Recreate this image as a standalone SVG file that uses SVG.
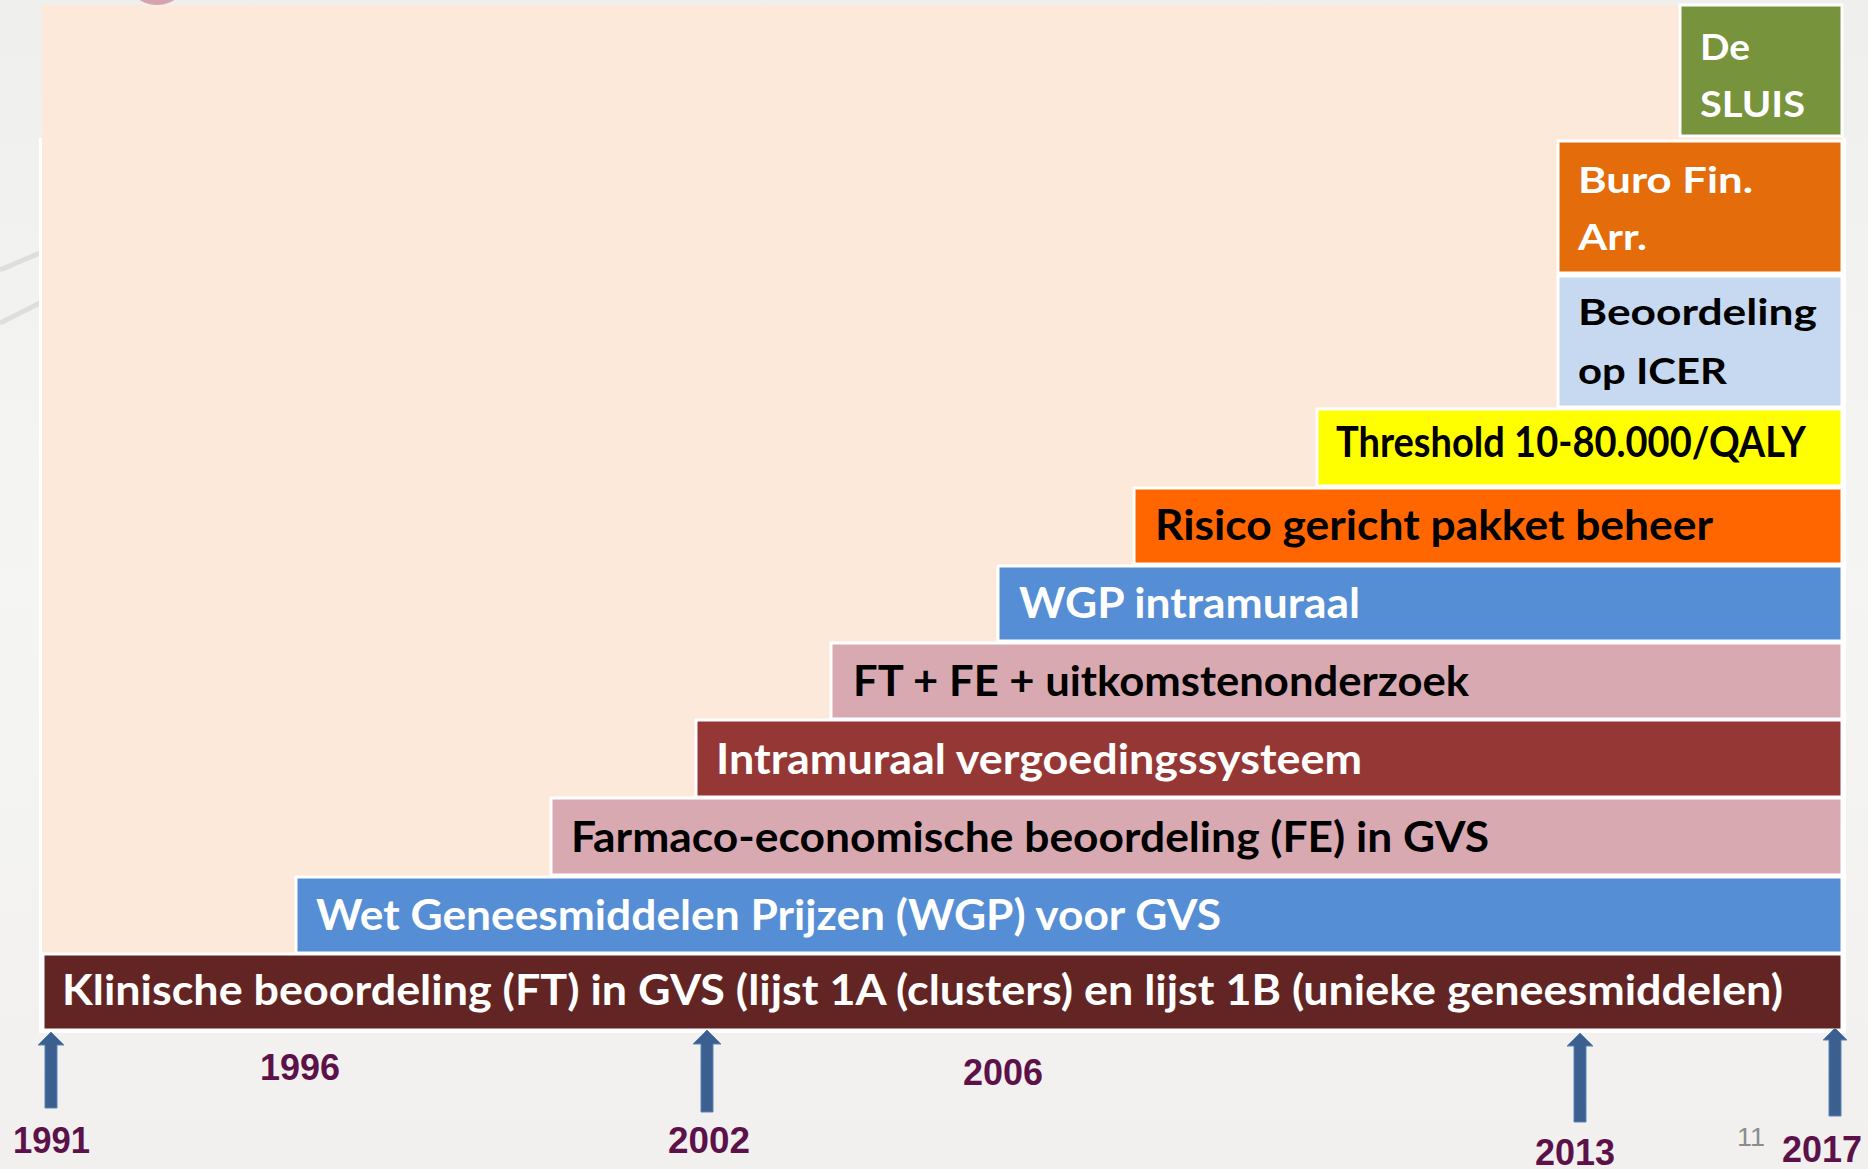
<svg xmlns="http://www.w3.org/2000/svg" width="1868" height="1169" viewBox="0 0 1868 1169">
  <defs>
    <linearGradient id="bg" x1="0" y1="0" x2="0" y2="1">
      <stop offset="0" stop-color="#EFEFEE"/>
      <stop offset="0.5" stop-color="#F5F5F4"/>
      <stop offset="1" stop-color="#F1F0EE"/>
    </linearGradient>
    <style>
      .bar { stroke: #FFFFFF; stroke-width: 3; }
      .lbl { font-family: Lato, "Open Sans", "Liberation Sans", sans-serif; font-weight: bold; font-size: 42px; }
      .sm { font-size: 37px; }
      .w { fill: #FFFFFF; }
      .k { fill: #000000; }
      .year { font-family: "Liberation Sans", Arial, sans-serif; font-weight: bold; font-size: 37px; fill: #5C1149; }
      .arrow { fill: #3B5F8E; stroke: #5A84B6; stroke-width: 1; }
    </style>
  </defs>

  <rect x="0" y="0" width="1868" height="1169" fill="url(#bg)"/>
  <circle cx="157" cy="-28" r="33" fill="#D7A2B0"/>
  <line x1="0" y1="270" x2="40" y2="253" stroke="#DEDEDD" stroke-width="5"/>
  <line x1="0" y1="323" x2="40" y2="303" stroke="#DEDEDD" stroke-width="5"/>

  <rect x="39" y="138" width="1807" height="895" fill="#FFFFFF"/>
  <rect x="42" y="5" width="1800" height="950" fill="#FDE9DA"/>

  <g id="klinische">
    <rect class="bar" x="43" y="954" width="1799" height="76" fill="#632523"/>
    <text class="lbl w" x="62" y="1005" textLength="1721" lengthAdjust="spacingAndGlyphs">Klinische beoordeling (FT) in GVS (lijst 1A (clusters) en lijst 1B (unieke geneesmiddelen)</text>
  </g>
  <g id="wgp-gvs">
    <rect class="bar" x="296" y="877" width="1546" height="76" fill="#558ED5"/>
    <text class="lbl w" x="316" y="930" textLength="905" lengthAdjust="spacingAndGlyphs">Wet Geneesmiddelen Prijzen (WGP) voor GVS</text>
  </g>
  <g id="farmaco">
    <rect class="bar" x="551" y="798" width="1291" height="77" fill="#D9A9B2"/>
    <text class="lbl k" x="571" y="852" textLength="918" lengthAdjust="spacingAndGlyphs">Farmaco-economische beoordeling (FE) in GVS</text>
  </g>
  <g id="intramuraal-vergoeding">
    <rect class="bar" x="696" y="720" width="1146" height="77" fill="#953735"/>
    <text class="lbl w" x="716" y="774" textLength="646" lengthAdjust="spacingAndGlyphs">Intramuraal vergoedingssysteem</text>
  </g>
  <g id="ft-fe">
    <rect class="bar" x="831" y="643" width="1011" height="76" fill="#D9A9B2"/>
    <text class="lbl k" x="853" y="696" textLength="616" lengthAdjust="spacingAndGlyphs">FT + FE + uitkomstenonderzoek</text>
  </g>
  <g id="wgp-intramuraal">
    <rect class="bar" x="998" y="566" width="844" height="75" fill="#558ED5"/>
    <text class="lbl w" x="1019" y="618" textLength="341" lengthAdjust="spacingAndGlyphs">WGP intramuraal</text>
  </g>
  <g id="risico">
    <rect class="bar" x="1134" y="488" width="708" height="76" fill="#FF6600"/>
    <text class="lbl k" x="1155" y="540" textLength="558" lengthAdjust="spacingAndGlyphs">Risico gericht pakket beheer</text>
  </g>
  <g id="threshold">
    <rect class="bar" x="1317" y="409" width="525" height="77" fill="#FFFF00"/>
    <text class="lbl k" x="1336" y="457" font-size="36" textLength="470" lengthAdjust="spacingAndGlyphs">Threshold 10-80.000/QALY</text>
  </g>
  <g id="icer">
    <rect class="bar" x="1558" y="276" width="284" height="131" fill="#C6D9F1"/>
    <text class="lbl sm k" x="1578" y="325" textLength="239" lengthAdjust="spacingAndGlyphs">Beoordeling</text>
    <text class="lbl sm k" x="1578" y="384" textLength="149" lengthAdjust="spacingAndGlyphs">op ICER</text>
  </g>
  <g id="buro">
    <rect class="bar" x="1558" y="141" width="284" height="132" fill="#E46C0A"/>
    <text class="lbl sm w" x="1578" y="193" textLength="175" lengthAdjust="spacingAndGlyphs">Buro Fin.</text>
    <text class="lbl sm w" x="1578" y="250" textLength="69" lengthAdjust="spacingAndGlyphs">Arr.</text>
  </g>
  <g id="sluis">
    <rect class="bar" x="1680" y="5" width="162" height="131" fill="#77933C"/>
    <text class="lbl sm w" x="1700" y="60" textLength="50" lengthAdjust="spacingAndGlyphs">De</text>
    <text class="lbl sm w" x="1700" y="117" textLength="105" lengthAdjust="spacingAndGlyphs">SLUIS</text>
  </g>

  <g id="connectors">
    <path class="arrow" d="M51,1032 L64,1045 L57,1045 L57,1108 L45,1108 L45,1045 L38,1045 Z"/>
    <path class="arrow" d="M707,1030 L721,1044 L713,1044 L713,1112 L701,1112 L701,1044 L693,1044 Z"/>
    <path class="arrow" d="M1580,1033 L1593,1046 L1586,1046 L1586,1122 L1574,1122 L1574,1046 L1567,1046 Z"/>
    <path class="arrow" d="M1835,1028 L1847,1040 L1841,1040 L1841,1116 L1829,1116 L1829,1040 L1823,1040 Z"/>
  </g>

  <g id="years">
    <text class="year" x="13" y="1153" textLength="77" lengthAdjust="spacingAndGlyphs">1991</text>
    <text class="year" x="260" y="1080" textLength="80" lengthAdjust="spacingAndGlyphs">1996</text>
    <text class="year" x="668" y="1153" textLength="82" lengthAdjust="spacingAndGlyphs">2002</text>
    <text class="year" x="963" y="1085" textLength="80" lengthAdjust="spacingAndGlyphs">2006</text>
    <text class="year" x="1535" y="1165" textLength="80" lengthAdjust="spacingAndGlyphs">2013</text>
    <text class="year" x="1782" y="1162" textLength="80" lengthAdjust="spacingAndGlyphs">2017</text>
  </g>
  <text x="1737" y="1146" font-family="'Liberation Sans', Arial, sans-serif" font-size="26" fill="#8C8C8C" textLength="28" lengthAdjust="spacingAndGlyphs">11</text>
</svg>
